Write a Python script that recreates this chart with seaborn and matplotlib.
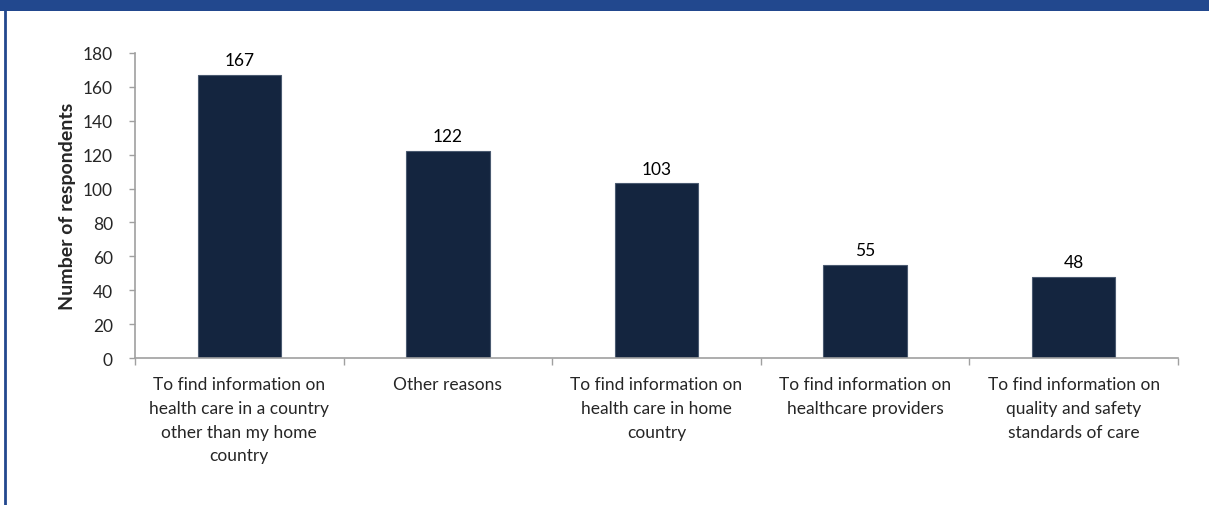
import matplotlib
matplotlib.use("Agg")
import matplotlib.pyplot as plt
import seaborn as sns
import pandas as pd
import numpy as np
from matplotlib.patches import Rectangle
from matplotlib.lines import Line2D

categories = [
    "To find information on\nhealth care in a country\nother than my home\ncountry",
    "Other reasons",
    "To find information on\nhealth care in home\ncountry",
    "To find information on\nhealthcare providers",
    "To find information on\nquality and safety\nstandards of care",
]
values = [167, 122, 103, 55, 48]
yticks = [0, 20, 40, 60, 80, 100, 120, 140, 160, 180]

sns.set_style("white")
plt.rcParams['font.family'] = ['Lato', 'DejaVu Sans']

df = pd.DataFrame({"cat": categories, "val": values})

fig = plt.figure(figsize=(12.09, 5.06), dpi=100)
ax = fig.add_axes([135/1209, 1-359/506, (1178-135)/1209, (359-54)/506])
sns.barplot(data=df, x="cat", y="val", color="#14253f", width=0.4, ax=ax, saturation=1)
for p in ax.patches:
    p.set_edgecolor("#4a5a70")
    p.set_linewidth(0.8)

for i, v in enumerate(values):
    ax.text(i, v + 4, str(v), ha="center", va="bottom", fontsize=12.5, color="black")

ax.set_ylim(0, 180)
ax.set_xlim(-0.5, 4.5)
ax.set_yticks(yticks)
ax.set_yticklabels([str(t) for t in yticks], fontsize=12.5)
ax.set_xticks(range(len(categories)))
ax.set_xticklabels(categories, fontsize=12.5, linespacing=1.6)
ax.set_xticks(np.arange(-0.5, 5, 1), minor=True)
ax.tick_params(axis="x", which="major", length=0, pad=13)
ax.tick_params(axis="x", which="minor", length=5, color="#a0a0a0", width=1, direction="out", bottom=True)
ax.tick_params(axis="y", length=4, color="#a0a0a0", width=1, direction="out", left=True, pad=12)
ax.set_xlabel("")
ax.set_ylabel("Number of respondents", fontsize=14, fontweight="bold", labelpad=5)
for s in ["top", "right"]:
    ax.spines[s].set_visible(False)
for s in ["left", "bottom"]:
    ax.spines[s].set_color("#a0a0a0")
    ax.spines[s].set_linewidth(1.2)

fig.patches.append(Rectangle((0, 1-12/506), 1, 12/506, transform=fig.transFigure,
                             facecolor="#22488e", edgecolor="none"))
fig.lines.append(Line2D([5/1209, 5/1209], [0, 1], transform=fig.transFigure,
                        color="#22488e", linewidth=2))

fig.savefig("out.png", dpi=100)
